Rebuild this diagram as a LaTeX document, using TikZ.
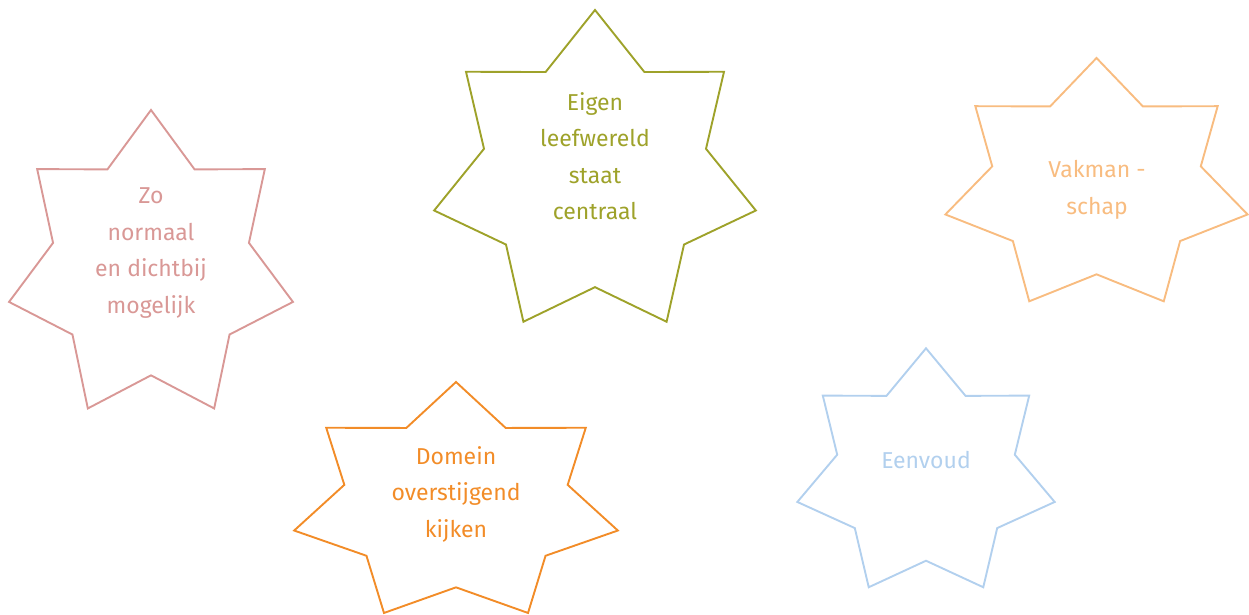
\documentclass[tikz,border=0pt]{standalone}
\usepackage{fontspec}
\setmainfont{Fira Sans}

\definecolor{olivegreen}{RGB}{158,162,42}
\definecolor{rosepink}{RGB}{217,152,150}
\definecolor{brightorange}{RGB}{242,140,40}
\definecolor{peach}{RGB}{248,188,128}
\definecolor{paleblue}{RGB}{178,208,238}

% seven-point star round a centre: #1 centre, #2 x-radius, #3 y-radius, #4 colour
\newcommand{\sevenstar}[4]{%
  \begin{scope}[shift={(#1)}]
    \draw[#4, line width=1.9pt, line join=miter]
      plot[samples at={0,...,13}, variable=\k]
        ({90+\k*360/14}:{(1-0.31*mod(\k,2))*#2} and {(1-0.31*mod(\k,2))*#3}) -- cycle;
  \end{scope}}

\tikzset{
  startext/.style={align=center, font=\fontsize{23}{36.5}\selectfont, inner sep=0pt}
}

\begin{document}
\begin{tikzpicture}[x=1pt, y=1pt]
    \useasboundingbox (0,0) rectangle (1249,615);
    % Star centres
    \coordinate (cpink) at (151,348);
    \coordinate (cgreen) at (595,441);
    \coordinate (cpeach) at (1096.5,429);
    \coordinate (corange) at (456,111.5);
    \coordinate (cblue) at (926,141);
    % Stars
    \sevenstar{cpink}{145.6}{157}{rosepink}
    \sevenstar{cgreen}{165}{164}{olivegreen}
    \sevenstar{cpeach}{155}{128}{peach}
    \sevenstar{corange}{166}{121.5}{brightorange}
    \sevenstar{cblue}{132}{125.7}{paleblue}
    % Texts
    \node[startext, text=rosepink] (normaal) at (151,362) {Zo\\normaal\\en dichtbij\\mogelijk};
    \node[startext, text=olivegreen] (leefwereld) at (595,459) {Eigen\\leefwereld\\staat\\centraal};
    \node[startext, text=peach] (vakmanschap) at (1097,425) {Vakman -\\schap};
    \node[startext, text=brightorange] (domein) at (456,121) {Domein\\overstijgend\\kijken};
    \node[startext, text=paleblue] (eenvoud) at (926,155) {Eenvoud};
\end{tikzpicture}
\end{document}
